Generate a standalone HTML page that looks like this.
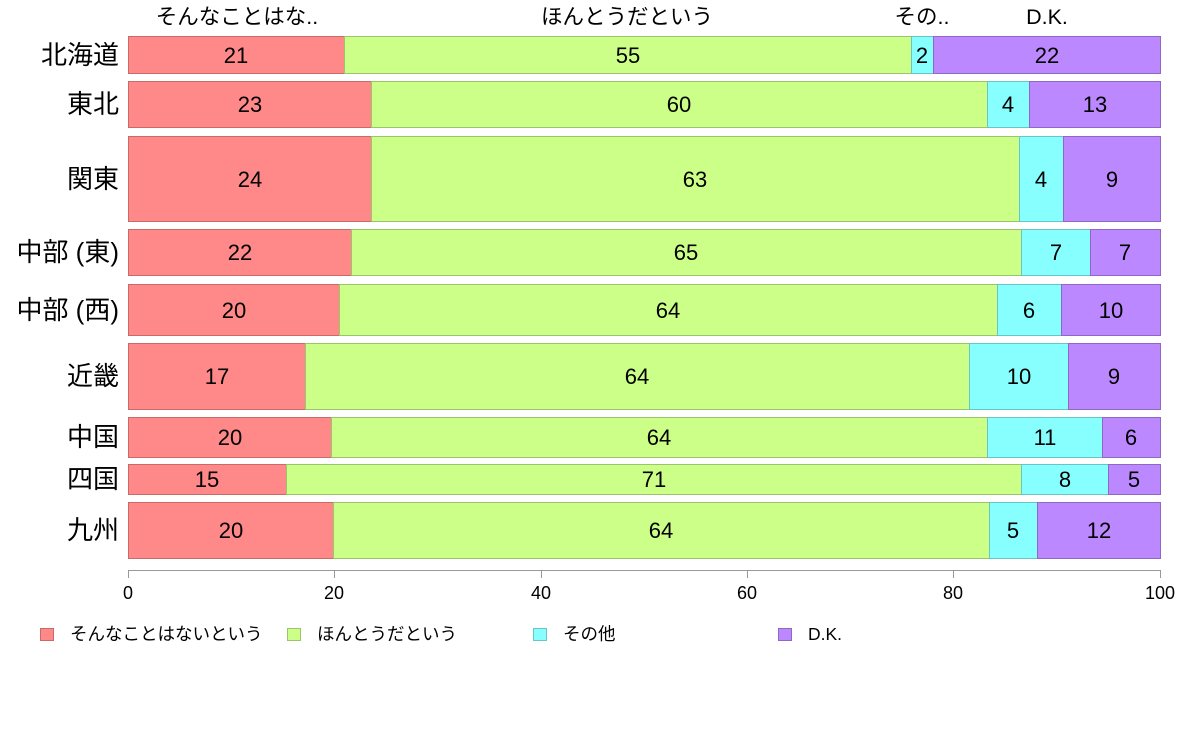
<!DOCTYPE html>
<html><head><meta charset="utf-8"><style>
body{margin:0;background:#fff}
svg{display:block;font-family:"Liberation Sans","Noto Sans CJK JP",sans-serif}
.r{fill:#FF8888;stroke:#C86A6A}.g{fill:#CCFF88;stroke:#9DC46A}.c{fill:#88FFFF;stroke:#6AC4C4}.p{fill:#BB88FF;stroke:#9068C4}
.v{font-size:22px;text-anchor:middle}
.l{font-size:26px;text-anchor:end}
</style></head><body>
<svg width="1188" height="736" viewBox="0 0 1188 736">
<g font-size="21.5" text-anchor="middle">
<text x="237" y="24">そんなことはな..</text>
<text x="627" y="24">ほんとうだという</text>
<text x="922" y="24">その..</text>
<text x="1047" y="24">D.K.</text>
</g>
<g stroke-width="1">
<rect class="r" x="128.5" y="36.5" width="216" height="37"/><rect class="g" x="344.5" y="36.5" width="567" height="37"/><rect class="c" x="911.5" y="36.5" width="22" height="37"/><rect class="p" x="933.5" y="36.5" width="227" height="37"/>
<rect class="r" x="128.5" y="81.5" width="243" height="46"/><rect class="g" x="371.5" y="81.5" width="616" height="46"/><rect class="c" x="987.5" y="81.5" width="42" height="46"/><rect class="p" x="1029.5" y="81.5" width="131" height="46"/>
<rect class="r" x="128.5" y="136.5" width="243" height="85"/><rect class="g" x="371.5" y="136.5" width="648" height="85"/><rect class="c" x="1019.5" y="136.5" width="44" height="85"/><rect class="p" x="1063.5" y="136.5" width="97" height="85"/>
<rect class="r" x="128.5" y="229.5" width="223" height="46"/><rect class="g" x="351.5" y="229.5" width="670" height="46"/><rect class="c" x="1021.5" y="229.5" width="69" height="46"/><rect class="p" x="1090.5" y="229.5" width="70" height="46"/>
<rect class="r" x="128.5" y="284.5" width="211" height="51"/><rect class="g" x="339.5" y="284.5" width="658" height="51"/><rect class="c" x="997.5" y="284.5" width="64" height="51"/><rect class="p" x="1061.5" y="284.5" width="99" height="51"/>
<rect class="r" x="128.5" y="343.5" width="177" height="66"/><rect class="g" x="305.5" y="343.5" width="664" height="66"/><rect class="c" x="969.5" y="343.5" width="99" height="66"/><rect class="p" x="1068.5" y="343.5" width="92" height="66"/>
<rect class="r" x="128.5" y="417.5" width="203" height="40"/><rect class="g" x="331.5" y="417.5" width="656" height="40"/><rect class="c" x="987.5" y="417.5" width="115" height="40"/><rect class="p" x="1102.5" y="417.5" width="58" height="40"/>
<rect class="r" x="128.5" y="464.5" width="158" height="30"/><rect class="g" x="286.5" y="464.5" width="735" height="30"/><rect class="c" x="1021.5" y="464.5" width="87" height="30"/><rect class="p" x="1108.5" y="464.5" width="52" height="30"/>
<rect class="r" x="128.5" y="502.5" width="205" height="56"/><rect class="g" x="333.5" y="502.5" width="656" height="56"/><rect class="c" x="989.5" y="502.5" width="48" height="56"/><rect class="p" x="1037.5" y="502.5" width="123" height="56"/>
</g>
<g class="v">
<text class="v" x="236" y="63">21</text><text class="v" x="628" y="63">55</text><text class="v" x="922" y="63">2</text><text class="v" x="1047" y="63">22</text>
<text class="v" x="250" y="112">23</text><text class="v" x="679" y="112">60</text><text class="v" x="1008" y="112">4</text><text class="v" x="1095" y="112">13</text>
<text class="v" x="250" y="187">24</text><text class="v" x="695" y="187">63</text><text class="v" x="1041" y="187">4</text><text class="v" x="1112" y="187">9</text>
<text class="v" x="240" y="260">22</text><text class="v" x="686" y="260">65</text><text class="v" x="1056" y="260">7</text><text class="v" x="1125" y="260">7</text>
<text class="v" x="234" y="318">20</text><text class="v" x="668" y="318">64</text><text class="v" x="1029" y="318">6</text><text class="v" x="1111" y="318">10</text>
<text class="v" x="217" y="384">17</text><text class="v" x="637" y="384">64</text><text class="v" x="1019" y="384">10</text><text class="v" x="1114" y="384">9</text>
<text class="v" x="230" y="445">20</text><text class="v" x="659" y="445">64</text><text class="v" x="1045" y="445">11</text><text class="v" x="1131" y="445">6</text>
<text class="v" x="207" y="487">15</text><text class="v" x="654" y="487">71</text><text class="v" x="1065" y="487">8</text><text class="v" x="1134" y="487">5</text>
<text class="v" x="231" y="538">20</text><text class="v" x="661" y="538">64</text><text class="v" x="1013" y="538">5</text><text class="v" x="1099" y="538">12</text>
</g>
<g class="l">
<text class="l" x="119" y="64">北海道</text>
<text class="l" x="119" y="113">東北</text>
<text class="l" x="119" y="188">関東</text>
<text class="l" x="119" y="261">中部 (東)</text>
<text class="l" x="119" y="319">中部 (西)</text>
<text class="l" x="119" y="385">近畿</text>
<text class="l" x="119" y="446">中国</text>
<text class="l" x="119" y="488">四国</text>
<text class="l" x="119" y="539">九州</text>
</g>
<g stroke="#999" stroke-width="1">
<line x1="128.5" y1="570.5" x2="1160.5" y2="570.5"/>
<line x1="128.5" y1="570" x2="128.5" y2="578"/><line x1="334.5" y1="570" x2="334.5" y2="578"/><line x1="541.5" y1="570" x2="541.5" y2="578"/><line x1="747.5" y1="570" x2="747.5" y2="578"/><line x1="953.5" y1="570" x2="953.5" y2="578"/><line x1="1160.5" y1="570" x2="1160.5" y2="578"/>
</g>
<g font-size="18" text-anchor="middle">
<text x="128" y="599">0</text><text x="334" y="599">20</text><text x="541" y="599">40</text><text x="747" y="599">60</text><text x="953" y="599">80</text><text x="1160" y="599">100</text>
</g>
<g font-size="17.5">
<rect class="r" x="40.5" y="628.5" width="13" height="12"/><text x="70" y="640">そんなことはないという</text>
<rect class="g" x="287.5" y="628.5" width="13" height="12"/><text x="317" y="640">ほんとうだという</text>
<rect class="c" x="533.5" y="628.5" width="13" height="12"/><text x="563" y="640">その他</text>
<rect class="p" x="778.5" y="628.5" width="13" height="12"/><text x="808" y="640">D.K.</text>
</g>
</svg>
</body></html>
